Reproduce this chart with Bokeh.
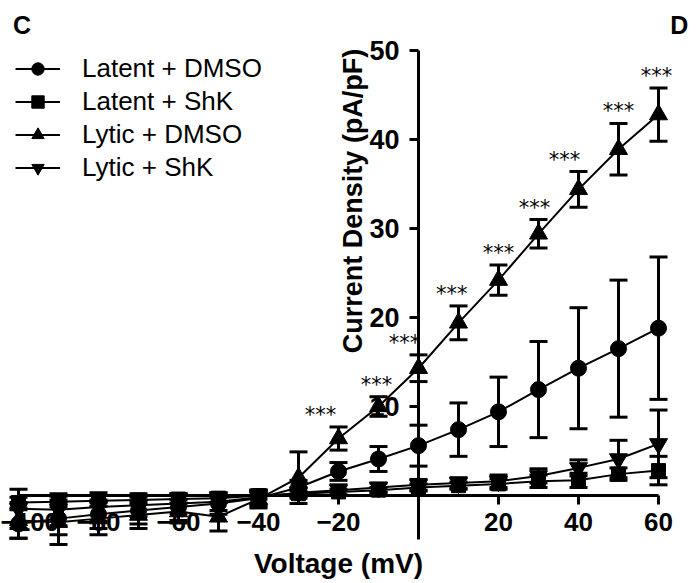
from math import pi
from bokeh.plotting import figure
from bokeh.models import (Range1d, LinearAxis, FixedTicker, Whisker, TeeHead,
                          ColumnDataSource, Legend, LegendItem, Label)
from bokeh.core.properties import value
from bokeh.embed import file_html
from bokeh.resources import INLINE

# ---------------- data ----------------
voltage = [-100, -90, -80, -70, -60, -50, -40, -30, -20, -10, 0, 10, 20, 30, 40, 50, 60]

latent_dmso = [-3.2, -2.6, -2.1, -1.7, -1.3, -0.9, -0.3, 0.9, 2.7, 4.1, 5.6, 7.4, 9.4, 11.9, 14.3, 16.5, 18.8]
latent_dmso_err = [1.6, 1.8, 1.6, 1.5, 1.5, 1.2, 0.9, 0.8, 1.0, 1.4, 2.3, 3.0, 3.9, 5.4, 6.8, 7.7, 8.0]

latent_shk = [-0.8, -0.7, -0.6, -0.5, -0.4, -0.3, 0.0, 0.2, 0.4, 0.6, 0.9, 1.1, 1.3, 1.6, 1.7, 2.4, 2.8]
latent_shk_err = [0.6, 0.6, 0.6, 0.5, 0.5, 0.5, 0.4, 0.3, 0.3, 0.3, 0.4, 0.4, 0.6, 0.7, 0.8, 0.7, 1.6]

lytic_dmso = [-2.8, -3.0, -2.6, -2.2, -1.8, -2.4, -0.4, 2.0, 6.4, 10.0, 14.3, 19.4, 24.2, 29.4, 34.4, 38.9, 42.8]
lytic_dmso_err = [2.0, 2.5, 1.8, 1.5, 1.3, 1.6, 1.0, 2.9, 1.3, 1.1, 1.5, 1.9, 1.7, 1.6, 2.0, 2.9, 3.0]

lytic_shk = [-1.5, -1.6, -1.3, -1.1, -0.9, -0.7, -0.2, 0.3, 0.6, 0.9, 1.2, 1.4, 1.6, 2.2, 3.1, 4.1, 5.8]
lytic_shk_err = [2.2, 1.8, 1.6, 1.3, 1.1, 1.0, 0.8, 0.6, 0.6, 0.5, 0.6, 0.6, 0.7, 0.8, 0.9, 2.1, 3.8]

series_names = ["Latent + DMSO", "Latent + ShK", "Lytic + DMSO", "Lytic + ShK"]
series_markers = ["circle", "square", "triangle", "inverted_triangle"]

x_ticks = [-100, -80, -60, -40, -20, 20, 40, 60]
y_ticks = [10, 20, 30, 40, 50]

signif_voltages = [-20, -10, 0, 10, 20, 30, 40, 50, 60]
signif_text = "***"

x_label = "Voltage (mV)"
y_label = "Current Density (pA/pF)"
panel_left = "C"
panel_right = "D"

FONT = "Liberation Sans"
STAR_FONT = "DejaVu Sans"

# small horizontal nudges of the star labels (layout only, in mV units)
sig_nudge = [-4.5, -0.5, -3.5, -1.7, 0.0, -1.0, -3.5, 0.0, -0.5]

# ---------------- figure ----------------
p = figure(width=698, height=583,
           x_range=Range1d(-104.5, 70), y_range=Range1d(-9.89, 55.62),
           output_backend="svg", toolbar_location=None, min_border=0,
           x_axis_location=None, y_axis_location=None, title=None)
p.outline_line_color = None
p.xgrid.visible = False
p.ygrid.visible = False
p.background_fill_color = "white"
p.border_fill_color = "white"


def style_axis(ax):
    ax.axis_line_width = 3
    ax.axis_line_color = "black"
    ax.major_tick_line_width = 3
    ax.major_tick_line_color = "black"
    ax.major_tick_out = 9
    ax.major_tick_in = 0
    ax.minor_tick_line_color = None
    ax.major_label_text_font = FONT
    ax.major_label_text_font_style = "bold"
    ax.major_label_text_font_size = "26px"
    ax.major_label_text_color = "black"
    ax.axis_label_text_font = FONT
    ax.axis_label_text_font_style = "bold"
    ax.axis_label_text_font_size = "28px"
    ax.axis_label_text_color = "black"
    ax.level = "underlay"


xaxis = LinearAxis(fixed_location=0, bounds=(-100, 60),
                   ticker=FixedTicker(ticks=x_ticks), axis_label=x_label)
style_axis(xaxis)
xaxis.major_label_standoff = 9
xaxis.axis_label_standoff = 13
p.add_layout(xaxis, "below")

yaxis = LinearAxis(fixed_location=0, bounds=(-5, 50),
                   ticker=FixedTicker(ticks=y_ticks))
style_axis(yaxis)
yaxis.major_label_text_font_size = "27px"
yaxis.major_label_standoff = 10
p.add_layout(yaxis, "left")

# ---------------- series ----------------
all_means = [latent_dmso, latent_shk, lytic_dmso, lytic_shk]
all_errs = [latent_dmso_err, latent_shk_err, lytic_dmso_err, lytic_shk_err]
marker_sizes = {"circle": 16, "square": 14, "triangle": 18, "inverted_triangle": 18}

items = []
for name, marker, means, errs in zip(series_names, series_markers, all_means, all_errs):
    src = ColumnDataSource(dict(
        x=voltage, y=means,
        upper=[m + e for m, e in zip(means, errs)],
        lower=[m - e for m, e in zip(means, errs)],
    ))
    w = Whisker(source=src, base="x", upper="upper", lower="lower", dimension="height",
                line_color="black", line_width=3,
                upper_head=TeeHead(size=18, line_width=3, line_color="black"),
                lower_head=TeeHead(size=18, line_width=3, line_color="black"))
    w.level = "glyph"
    p.add_layout(w)
    rl = p.line("x", "y", source=src, line_color="black", line_width=2)
    rs = p.scatter("x", "y", source=src, marker=marker, size=marker_sizes[marker],
                   fill_color="black", line_color="black")
    items.append(LegendItem(label=name, renderers=[rl, rs]))

legend = Legend(items=items, location=(15, 400), orientation="vertical",
                glyph_width=45, glyph_height=31, label_height=31,
                label_standoff=22, spacing=2, padding=0, margin=0,
                border_line_color=None, background_fill_alpha=0,
                label_text_font=FONT, label_text_font_size="26px",
                label_text_color="black")
p.add_layout(legend)

# significance stars above Lytic + DMSO error bars
sig_idx = [voltage.index(v) for v in signif_voltages]
sig_x = [v + d for v, d in zip(signif_voltages, sig_nudge)]
sig_y = [lytic_dmso[i] + lytic_dmso_err[i] for i in sig_idx]
p.text(x=sig_x, y=sig_y, text=[signif_text] * len(signif_voltages),
       y_offset=-12, text_align="center", text_baseline="middle",
       text_font=value(STAR_FONT), text_font_size="21px", text_color="black")

# y axis label and panel letters
p.add_layout(Label(x=-16.5, y=33.1, text=y_label, angle=pi / 2,
                   text_align="center", text_baseline="middle",
                   text_font=FONT, text_font_style="bold", text_font_size="27px",
                   text_color="black"))
p.add_layout(Label(x=-99.1, y=52.9, text=panel_left, text_align="center",
                   text_baseline="middle", text_font=FONT, text_font_style="bold",
                   text_font_size="25px", text_color="black"))
p.add_layout(Label(x=65.2, y=52.9, text=panel_right, text_align="center",
                   text_baseline="middle", text_font=FONT, text_font_style="bold",
                   text_font_size="25px", text_color="black"))

open("out.html", "w").write(file_html(p, INLINE))
